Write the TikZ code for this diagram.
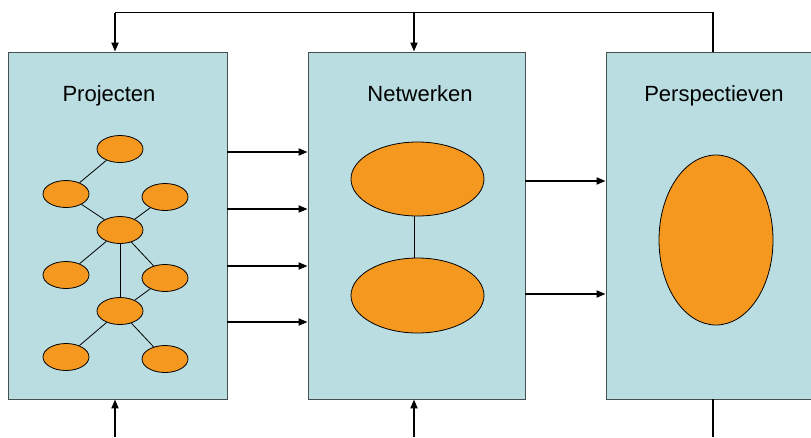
\documentclass[tikz,border=0pt]{standalone}
\usepackage{fontspec}
\setmainfont{Liberation Sans}
\usetikzlibrary{arrows.meta,shapes.geometric}
\definecolor{boxblue}{RGB}{185,221,224}
\definecolor{nodeorange}{RGB}{244,152,32}
\definecolor{boxline}{RGB}{70,80,80}
\tikzset{
  panel/.style={draw=boxline, line width=0.9pt, fill=boxblue, rectangle, inner sep=0pt, minimum height=347pt},
  blob/.style={draw=black, line width=0.8pt, fill=nodeorange, ellipse, inner sep=0pt},
  small/.style={blob, minimum width=46pt, minimum height=27pt},
  flow/.style={line width=1.8pt, -{Triangle[length=9pt,width=7pt]}},
  plain/.style={line width=1.8pt},
  link/.style={line width=0.8pt},
  title/.style={font=\fontsize{22pt}{26pt}\selectfont, anchor=base, inner sep=0pt}
}
\begin{document}
\begin{tikzpicture}[x=1pt,y=-1pt]
\useasboundingbox (0,0) rectangle (811,437);
\clip (0,0) rectangle (811,437);
\fill[white] (0,0) rectangle (811,437);
% panels
\node[panel, minimum width=219pt] (P) at (117.5,225.5) {};
\node[panel, minimum width=217pt] (N) at (416.5,225.5) {};
\node[panel, minimum width=212pt] (V) at (712,225.5) {};
% titles
\node[title] (tP) at (109,101) {Projecten};
\node[title] (tN) at (420,101) {Netwerken};
\node[title] (tV) at (714,101) {Perspectieven};
% left graph
\node[small] (a) at (120,149) {};
\node[small] (b) at (66,194) {};
\node[small] (c) at (165,197) {};
\node[small] (d) at (120,230) {};
\node[small] (e) at (66,275) {};
\node[small] (f) at (165,278) {};
\node[small] (g) at (120,311) {};
\node[small] (h) at (66,357) {};
\node[small] (i) at (165,359) {};
\draw[link] (a) -- (b);
\draw[link] (b) -- (d);
\draw[link] (c) -- (d);
\draw[link] (d) -- (e);
\draw[link] (d) -- (f);
\draw[link] (d) -- (g);
\draw[link] (f) -- (g);
\draw[link] (g) -- (h);
\draw[link] (g) -- (i);
% middle graph
\node[blob, minimum width=133pt, minimum height=74pt] (m1) at (417.5,179) {};
\node[blob, minimum width=133pt, minimum height=75pt] (m2) at (417.5,295.5) {};
\draw[link] (m1.south -| 414,0) -- (m2.north -| 414,0);
% right blob
\node[blob, minimum width=114pt, minimum height=170pt] (r) at (716,240) {};
% arrows P -> N
\foreach \yy in {152,209,266,322}{
  \draw[flow] (P.east |- 0,\yy) -- (N.west |- 0,\yy);
}
% arrows N -> V
\foreach \yy in {181,294}{
  \draw[flow] (N.east |- 0,\yy) -- (V.west |- 0,\yy);
}
% top feedback
\coordinate (t1) at (115,12.5);
\coordinate (t2) at (414,12.5);
\coordinate (t3) at (713,12.5);
\draw[plain] (V.north -| t3) -- (t3) -- (t1);
\draw[flow] (t1) -- (P.north -| t1);
\draw[flow] (t2) -- (N.north -| t2);
% bottom inputs
\coordinate (b1) at (115,437);
\coordinate (b2) at (414,437);
\coordinate (b3) at (713,437);
\draw[flow] (b1) -- (P.south -| b1);
\draw[flow] (b2) -- (N.south -| b2);
\draw[plain] (b3) -- (V.south -| b3);
\end{tikzpicture}
\end{document}
